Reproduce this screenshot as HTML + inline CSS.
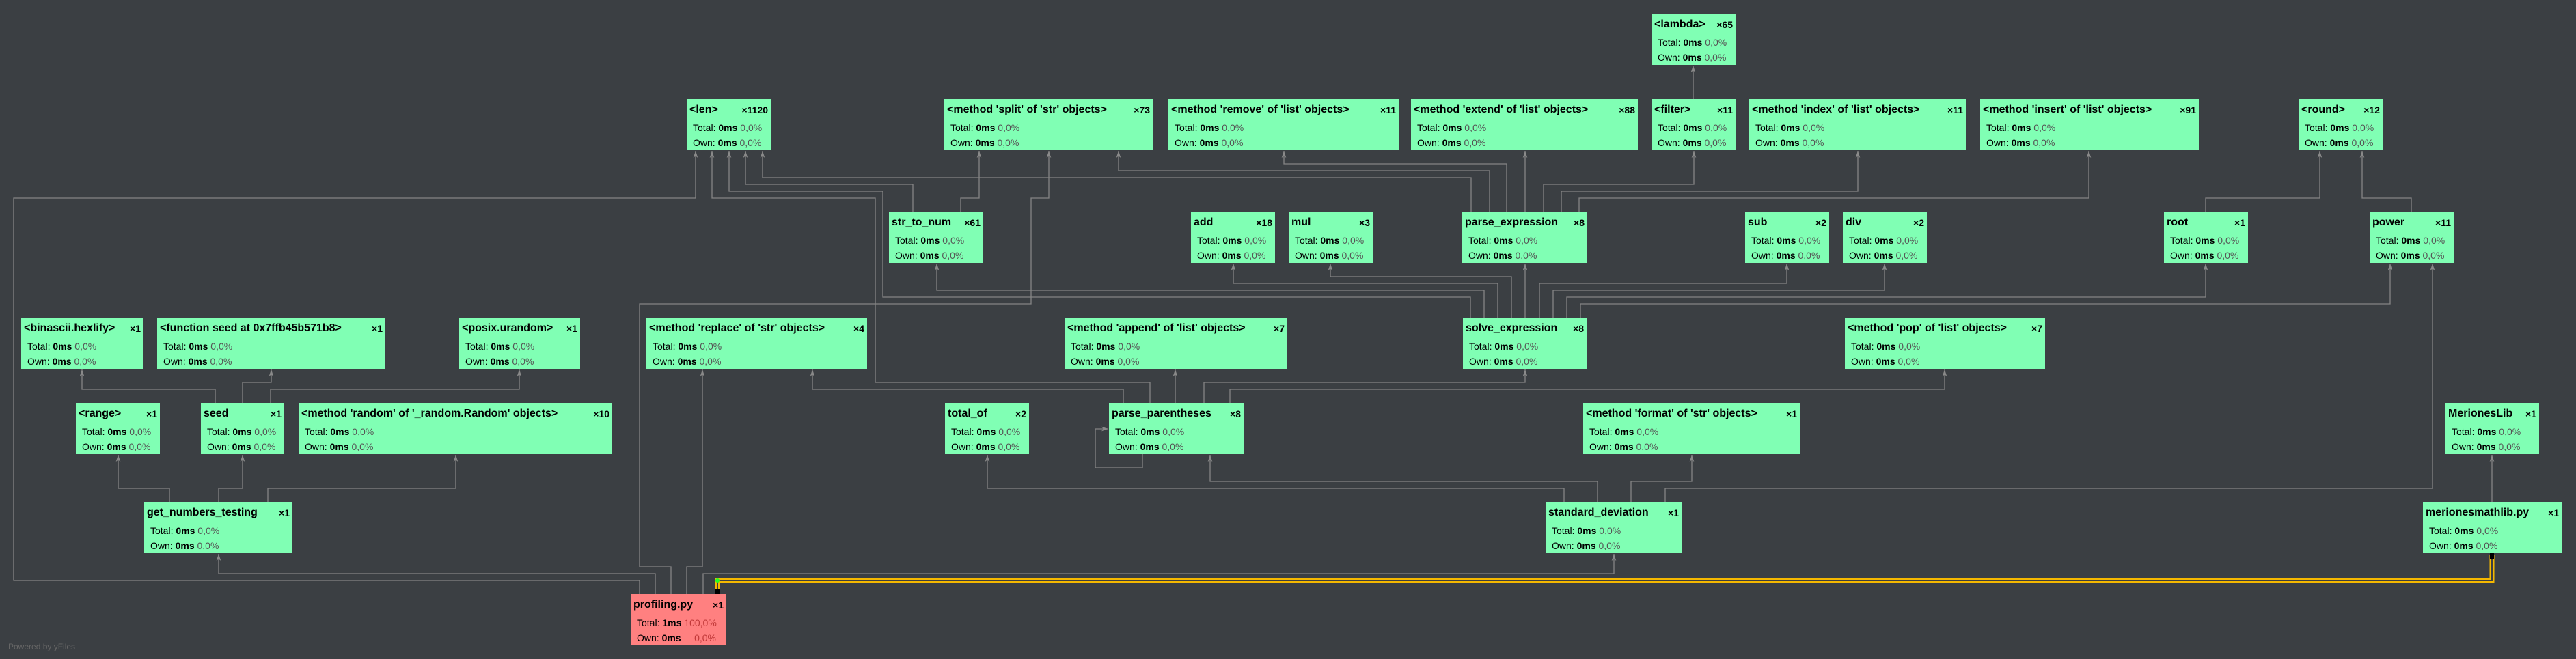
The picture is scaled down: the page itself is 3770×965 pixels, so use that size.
<!DOCTYPE html>
<html><head><meta charset="utf-8">
<style>
html,body{margin:0;padding:0;}
body{width:3770px;height:965px;background:#3b3f43;position:relative;overflow:hidden;font-family:"Liberation Sans",sans-serif;}
svg{position:absolute;left:0;top:0;}
.b{position:absolute;background:#80ffb4;box-sizing:border-box;height:75px;color:#000;}
.b.r{background:#ff8080;}
.t{position:absolute;left:4px;right:4px;top:7px;height:20px;font-weight:bold;font-size:16px;white-space:nowrap;display:flex;justify-content:space-between;}
.t i{font-style:normal;font-size:14px;padding-top:1px;margin-left:4px;}
.l{position:absolute;left:9px;font-size:14px;white-space:nowrap;}
.l1{top:34px}.l2{top:56px}
.l b{font-weight:bold}
.p{color:#555}
.r .p{color:#c03838}
.pw{position:absolute;left:12px;top:940px;color:#666;font-size:12px;}
</style></head><body>
<svg width="3770" height="965" viewBox="0 0 3770 965">
<defs>
<marker id="a" markerWidth="10" markerHeight="14" refX="12" refY="4" orient="auto" markerUnits="userSpaceOnUse" viewBox="0 0 12 8">
<path d="M0,0 L12,4 L0,8 L3,4 Z" fill="#8a8a8a"/>
</marker>
</defs>
<g fill="none" stroke="#858585" stroke-width="1.3" marker-end="url(#a)">
<polyline points="936,870 936,850 20,850 20,290 1018,290 1018,221"/>
<polyline points="982,870 982,830 936,830 936,445 1509,445 1509,290 1535,290 1535,221"/>
<polyline points="959,870 959,840 320,840 320,811"/>
<polyline points="1005,870 1005,830 1028,830 1028,541"/>
<polyline points="1029,870 1029,840 2362,840 2362,811"/>
<polyline points="3647,735 3647,666"/>
<polyline points="248,735 248,715 173,715 173,666"/>
<polyline points="320,735 320,715 355,715 355,666"/>
<polyline points="392,735 392,715 667,715 667,666"/>
<polyline points="315,590 315,570 120,570 120,541"/>
<polyline points="355,590 355,560 397,560 397,541"/>
<polyline points="396,590 396,570 760,570 760,541"/>
<polyline points="1683,590 1683,560 1281,560 1281,290 1042,290 1042,221"/>
<polyline points="1762,590 1762,560 2232,560 2232,541"/>
<polyline points="1644,590 1644,570 1189,570 1189,541"/>
<polyline points="1800,590 1800,570 2846,570 2846,541"/>
<polyline points="1720,590 1720,541"/>
<polyline points="1672,665 1672,685 1603,685 1603,628 1622,628"/>
<polyline points="2289,735 2289,715 1445,715 1445,666"/>
<polyline points="2338,735 2338,705 1771,705 1771,666"/>
<polyline points="2387,735 2387,705 2476,705 2476,666"/>
<polyline points="2437,735 2437,715 3560,715 3560,386"/>
<polyline points="2152,465 2152,435 1292,435 1292,280 1067,280 1067,221"/>
<polyline points="2172,465 2172,425 1371,425 1371,386"/>
<polyline points="2192,465 2192,415 1805,415 1805,386"/>
<polyline points="2212,465 2212,405 1947,405 1947,386"/>
<polyline points="2232,465 2232,386"/>
<polyline points="2253,465 2253,415 2615,415 2615,386"/>
<polyline points="2273,465 2273,425 2758,425 2758,386"/>
<polyline points="2293,465 2293,435 3228,435 3228,386"/>
<polyline points="2313,465 2313,445 3498,445 3498,386"/>
<polyline points="1336,310 1336,270 1091,270 1091,221"/>
<polyline points="1406,310 1406,290 1433,290 1433,221"/>
<polyline points="2153,310 2153,260 1116,260 1116,221"/>
<polyline points="2180,310 2180,250 1637,250 1637,221"/>
<polyline points="2205,310 2205,240 1879,240 1879,221"/>
<polyline points="2232,310 2232,221"/>
<polyline points="2259,310 2259,270 2479,270 2479,221"/>
<polyline points="2285,310 2285,280 2719,280 2719,221"/>
<polyline points="2311,310 2311,290 3057,290 3057,221"/>
<polyline points="3228,310 3228,290 3395,290 3395,221"/>
<polyline points="3529,310 3529,290 3457,290 3457,221"/>
<polyline points="2478,145 2478,96"/>
</g>
<polyline points="1050,870 1050,850 3647,850 3647,812" fill="none" stroke="#f5b800" stroke-width="7"/>
<polyline points="1050,870 1050,850 3647,850 3647,812" fill="none" stroke="#3b3f43" stroke-width="2"/>
<rect x="1047" y="862" width="6" height="8" fill="#000"/>
<rect x="3644" y="810" width="6" height="8" fill="#000"/>
<circle cx="1050" cy="850" r="3" fill="#2f2"/>
</svg>

<div class="b" style="left:2417px;top:20px;width:123px"><div class="t"><span>&lt;lambda&gt;</span><i>×65</i></div><div class="l l1">Total: <b>0ms</b> <span class="p">0,0%</span></div><div class="l l2">Own: <b>0ms</b> <span class="p">0,0%</span></div></div>

<div class="b" style="left:1005px;top:145px;width:123px"><div class="t"><span>&lt;len&gt;</span><i>×1120</i></div><div class="l l1">Total: <b>0ms</b> <span class="p">0,0%</span></div><div class="l l2">Own: <b>0ms</b> <span class="p">0,0%</span></div></div>
<div class="b" style="left:1382px;top:145px;width:305px"><div class="t"><span>&lt;method 'split' of 'str' objects&gt;</span><i>×73</i></div><div class="l l1">Total: <b>0ms</b> <span class="p">0,0%</span></div><div class="l l2">Own: <b>0ms</b> <span class="p">0,0%</span></div></div>
<div class="b" style="left:1710px;top:145px;width:337px"><div class="t"><span>&lt;method 'remove' of 'list' objects&gt;</span><i>×11</i></div><div class="l l1">Total: <b>0ms</b> <span class="p">0,0%</span></div><div class="l l2">Own: <b>0ms</b> <span class="p">0,0%</span></div></div>
<div class="b" style="left:2065px;top:145px;width:332px"><div class="t"><span>&lt;method 'extend' of 'list' objects&gt;</span><i>×88</i></div><div class="l l1">Total: <b>0ms</b> <span class="p">0,0%</span></div><div class="l l2">Own: <b>0ms</b> <span class="p">0,0%</span></div></div>
<div class="b" style="left:2417px;top:145px;width:123px"><div class="t"><span>&lt;filter&gt;</span><i>×11</i></div><div class="l l1">Total: <b>0ms</b> <span class="p">0,0%</span></div><div class="l l2">Own: <b>0ms</b> <span class="p">0,0%</span></div></div>
<div class="b" style="left:2560px;top:145px;width:317px"><div class="t"><span>&lt;method 'index' of 'list' objects&gt;</span><i>×11</i></div><div class="l l1">Total: <b>0ms</b> <span class="p">0,0%</span></div><div class="l l2">Own: <b>0ms</b> <span class="p">0,0%</span></div></div>
<div class="b" style="left:2898px;top:145px;width:320px"><div class="t"><span>&lt;method 'insert' of 'list' objects&gt;</span><i>×91</i></div><div class="l l1">Total: <b>0ms</b> <span class="p">0,0%</span></div><div class="l l2">Own: <b>0ms</b> <span class="p">0,0%</span></div></div>
<div class="b" style="left:3364px;top:145px;width:123px"><div class="t"><span>&lt;round&gt;</span><i>×12</i></div><div class="l l1">Total: <b>0ms</b> <span class="p">0,0%</span></div><div class="l l2">Own: <b>0ms</b> <span class="p">0,0%</span></div></div>

<div class="b" style="left:1301px;top:310px;width:138px"><div class="t"><span>str_to_num</span><i>×61</i></div><div class="l l1">Total: <b>0ms</b> <span class="p">0,0%</span></div><div class="l l2">Own: <b>0ms</b> <span class="p">0,0%</span></div></div>
<div class="b" style="left:1743px;top:310px;width:123px"><div class="t"><span>add</span><i>×18</i></div><div class="l l1">Total: <b>0ms</b> <span class="p">0,0%</span></div><div class="l l2">Own: <b>0ms</b> <span class="p">0,0%</span></div></div>
<div class="b" style="left:1886px;top:310px;width:123px"><div class="t"><span>mul</span><i>×3</i></div><div class="l l1">Total: <b>0ms</b> <span class="p">0,0%</span></div><div class="l l2">Own: <b>0ms</b> <span class="p">0,0%</span></div></div>
<div class="b" style="left:2140px;top:310px;width:183px"><div class="t"><span>parse_expression</span><i>×8</i></div><div class="l l1">Total: <b>0ms</b> <span class="p">0,0%</span></div><div class="l l2">Own: <b>0ms</b> <span class="p">0,0%</span></div></div>
<div class="b" style="left:2554px;top:310px;width:123px"><div class="t"><span>sub</span><i>×2</i></div><div class="l l1">Total: <b>0ms</b> <span class="p">0,0%</span></div><div class="l l2">Own: <b>0ms</b> <span class="p">0,0%</span></div></div>
<div class="b" style="left:2697px;top:310px;width:123px"><div class="t"><span>div</span><i>×2</i></div><div class="l l1">Total: <b>0ms</b> <span class="p">0,0%</span></div><div class="l l2">Own: <b>0ms</b> <span class="p">0,0%</span></div></div>
<div class="b" style="left:3167px;top:310px;width:123px"><div class="t"><span>root</span><i>×1</i></div><div class="l l1">Total: <b>0ms</b> <span class="p">0,0%</span></div><div class="l l2">Own: <b>0ms</b> <span class="p">0,0%</span></div></div>
<div class="b" style="left:3468px;top:310px;width:123px"><div class="t"><span>power</span><i>×11</i></div><div class="l l1">Total: <b>0ms</b> <span class="p">0,0%</span></div><div class="l l2">Own: <b>0ms</b> <span class="p">0,0%</span></div></div>

<div class="b" style="left:31px;top:465px;width:179px"><div class="t"><span>&lt;binascii.hexlify&gt;</span><i>×1</i></div><div class="l l1">Total: <b>0ms</b> <span class="p">0,0%</span></div><div class="l l2">Own: <b>0ms</b> <span class="p">0,0%</span></div></div>
<div class="b" style="left:230px;top:465px;width:334px"><div class="t"><span>&lt;function seed at 0x7ffb45b571b8&gt;</span><i>×1</i></div><div class="l l1">Total: <b>0ms</b> <span class="p">0,0%</span></div><div class="l l2">Own: <b>0ms</b> <span class="p">0,0%</span></div></div>
<div class="b" style="left:672px;top:465px;width:177px"><div class="t"><span>&lt;posix.urandom&gt;</span><i>×1</i></div><div class="l l1">Total: <b>0ms</b> <span class="p">0,0%</span></div><div class="l l2">Own: <b>0ms</b> <span class="p">0,0%</span></div></div>
<div class="b" style="left:946px;top:465px;width:323px"><div class="t"><span>&lt;method 'replace' of 'str' objects&gt;</span><i>×4</i></div><div class="l l1">Total: <b>0ms</b> <span class="p">0,0%</span></div><div class="l l2">Own: <b>0ms</b> <span class="p">0,0%</span></div></div>
<div class="b" style="left:1558px;top:465px;width:326px"><div class="t"><span>&lt;method 'append' of 'list' objects&gt;</span><i>×7</i></div><div class="l l1">Total: <b>0ms</b> <span class="p">0,0%</span></div><div class="l l2">Own: <b>0ms</b> <span class="p">0,0%</span></div></div>
<div class="b" style="left:2141px;top:465px;width:181px"><div class="t"><span>solve_expression</span><i>×8</i></div><div class="l l1">Total: <b>0ms</b> <span class="p">0,0%</span></div><div class="l l2">Own: <b>0ms</b> <span class="p">0,0%</span></div></div>
<div class="b" style="left:2700px;top:465px;width:293px"><div class="t"><span>&lt;method 'pop' of 'list' objects&gt;</span><i>×7</i></div><div class="l l1">Total: <b>0ms</b> <span class="p">0,0%</span></div><div class="l l2">Own: <b>0ms</b> <span class="p">0,0%</span></div></div>

<div class="b" style="left:111px;top:590px;width:123px"><div class="t"><span>&lt;range&gt;</span><i>×1</i></div><div class="l l1">Total: <b>0ms</b> <span class="p">0,0%</span></div><div class="l l2">Own: <b>0ms</b> <span class="p">0,0%</span></div></div>
<div class="b" style="left:294px;top:590px;width:122px"><div class="t"><span>seed</span><i>×1</i></div><div class="l l1">Total: <b>0ms</b> <span class="p">0,0%</span></div><div class="l l2">Own: <b>0ms</b> <span class="p">0,0%</span></div></div>
<div class="b" style="left:437px;top:590px;width:459px"><div class="t"><span>&lt;method 'random' of '_random.Random' objects&gt;</span><i>×10</i></div><div class="l l1">Total: <b>0ms</b> <span class="p">0,0%</span></div><div class="l l2">Own: <b>0ms</b> <span class="p">0,0%</span></div></div>
<div class="b" style="left:1383px;top:590px;width:123px"><div class="t"><span>total_of</span><i>×2</i></div><div class="l l1">Total: <b>0ms</b> <span class="p">0,0%</span></div><div class="l l2">Own: <b>0ms</b> <span class="p">0,0%</span></div></div>
<div class="b" style="left:1623px;top:590px;width:197px"><div class="t"><span>parse_parentheses</span><i>×8</i></div><div class="l l1">Total: <b>0ms</b> <span class="p">0,0%</span></div><div class="l l2">Own: <b>0ms</b> <span class="p">0,0%</span></div></div>
<div class="b" style="left:2317px;top:590px;width:317px"><div class="t"><span>&lt;method 'format' of 'str' objects&gt;</span><i>×1</i></div><div class="l l1">Total: <b>0ms</b> <span class="p">0,0%</span></div><div class="l l2">Own: <b>0ms</b> <span class="p">0,0%</span></div></div>
<div class="b" style="left:3579px;top:590px;width:137px"><div class="t"><span>MerionesLib</span><i>×1</i></div><div class="l l1">Total: <b>0ms</b> <span class="p">0,0%</span></div><div class="l l2">Own: <b>0ms</b> <span class="p">0,0%</span></div></div>

<div class="b" style="left:211px;top:735px;width:217px"><div class="t"><span>get_numbers_testing</span><i>×1</i></div><div class="l l1">Total: <b>0ms</b> <span class="p">0,0%</span></div><div class="l l2">Own: <b>0ms</b> <span class="p">0,0%</span></div></div>
<div class="b" style="left:2262px;top:735px;width:199px"><div class="t"><span>standard_deviation</span><i>×1</i></div><div class="l l1">Total: <b>0ms</b> <span class="p">0,0%</span></div><div class="l l2">Own: <b>0ms</b> <span class="p">0,0%</span></div></div>
<div class="b" style="left:3546px;top:735px;width:203px"><div class="t"><span>merionesmathlib.py</span><i>×1</i></div><div class="l l1">Total: <b>0ms</b> <span class="p">0,0%</span></div><div class="l l2">Own: <b>0ms</b> <span class="p">0,0%</span></div></div>

<div class="b r" style="left:923px;top:870px;width:140px"><div class="t"><span>profiling.py</span><i>×1</i></div><div class="l l1">Total: <b>1ms</b> <span class="p">100,0%</span></div><div class="l l2">Own: <b>0ms</b> &nbsp;&nbsp;&nbsp;&nbsp;<span class="p">0,0%</span></div></div>

<div class="pw">Powered by yFiles</div>
</body></html>
